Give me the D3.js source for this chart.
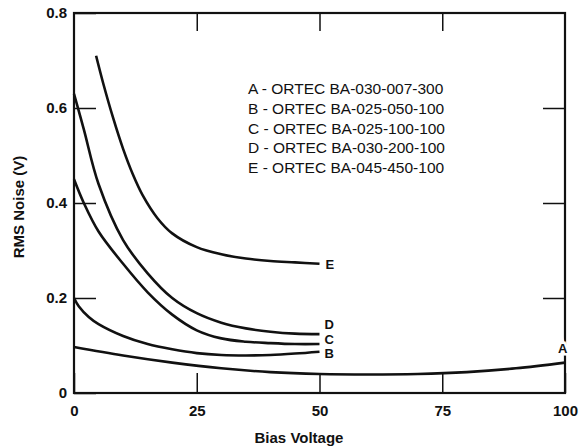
<!DOCTYPE html>
<html>
<head>
<meta charset="utf-8">
<script src="https://cdn.jsdelivr.net/npm/d3@7"></script>
<style>
  body { margin: 0; background: #fff; }
  text { font-family: "Liberation Sans", Arial, sans-serif; fill: #111; }
</style>
</head>
<body>
<div id="chart"></div>
<script>
// values
const biasA = [0, 10, 20, 30, 40, 50, 60, 70, 80, 90, 100];
const noiseA = [0.097, 0.079, 0.064, 0.052, 0.044, 0.040, 0.039, 0.040, 0.044, 0.052, 0.064];

const biasB = [0, 1, 3, 5, 10, 15, 20, 25, 30, 35, 40, 45, 50];
const noiseB = [0.200, 0.182, 0.160, 0.145, 0.120, 0.103, 0.092, 0.084, 0.080, 0.079, 0.080, 0.083, 0.087];

const biasC = [0, 2, 5, 10, 15, 20, 25, 30, 35, 40, 45, 50];
const noiseC = [0.450, 0.400, 0.340, 0.272, 0.212, 0.165, 0.132, 0.115, 0.108, 0.105, 0.103, 0.103];

const biasD = [0, 2, 5, 10, 15, 20, 25, 30, 35, 40, 45, 50];
const noiseD = [0.630, 0.555, 0.440, 0.322, 0.252, 0.200, 0.168, 0.148, 0.136, 0.129, 0.125, 0.124];

const biasE = [4.5, 6, 8, 10, 12, 14, 17, 20, 25, 30, 35, 40, 45, 50];
const noiseE = [0.710, 0.650, 0.578, 0.514, 0.460, 0.416, 0.368, 0.336, 0.307, 0.292, 0.283, 0.278, 0.275, 0.272];

const legendLabels = [
  'A - ORTEC BA-030-007-300',
  'B - ORTEC BA-025-050-100',
  'C - ORTEC BA-025-100-100',
  'D - ORTEC BA-030-200-100',
  'E - ORTEC BA-045-450-100'
];
const xTicks = [0, 25, 50, 75, 100];
const yTicks = [0, 0.2, 0.4, 0.6, 0.8];

const width = 580, height = 447;
const margins = {top: 13, right: 15, bottom: 54, left: 74};
const graphWidth = width - margins.left - margins.right;
const graphHeight = height - margins.top - margins.bottom;

const svg = d3.select('#chart')
  .append('svg')
  .attr('width', width)
  .attr('height', height);

const g = svg.append('g')
  .attr('transform', `translate(${margins.left}, ${margins.top})`);

const x = d3.scaleLinear().domain([0, 100]).range([0, graphWidth]);
const y = d3.scaleLinear().domain([0, 0.8]).range([graphHeight, 0]);

// axes with inward ticks
g.append('g')
  .attr('transform', `translate(0, ${graphHeight})`)
  .call(d3.axisBottom(x).tickValues(xTicks).tickSizeInner(-20).tickSizeOuter(0).tickPadding(12))
  .call(a => a.select('.domain').remove())
  .call(a => a.selectAll('line').attr('stroke', '#111').attr('stroke-width', 1.5))
  .call(a => a.selectAll('text').attr('font-size', 15).attr('font-weight', 'bold').attr('fill', '#111'));

g.append('g')
  .call(d3.axisLeft(y).tickValues(yTicks).tickSizeInner(-22).tickSizeOuter(0).tickPadding(7)
    .tickFormat(d => d === 0 ? '0' : d3.format('.1f')(d)))
  .call(a => a.select('.domain').remove())
  .call(a => a.selectAll('line').attr('stroke', '#111').attr('stroke-width', 1.5))
  .call(a => a.selectAll('text').attr('font-size', 15).attr('font-weight', 'bold').attr('fill', '#111'));

g.append('g')
  .call(d3.axisTop(x).tickValues([25, 50, 75]).tickSizeInner(-18).tickSizeOuter(0).tickFormat(''))
  .call(a => a.select('.domain').remove())
  .call(a => a.selectAll('line').attr('stroke', '#111').attr('stroke-width', 1.5));

g.append('g')
  .attr('transform', `translate(${graphWidth}, 0)`)
  .call(d3.axisRight(y).tickValues([0.2, 0.4, 0.6]).tickSizeInner(-22).tickSizeOuter(0).tickFormat(''))
  .call(a => a.select('.domain').remove())
  .call(a => a.selectAll('line').attr('stroke', '#111').attr('stroke-width', 1.5));

// frame
g.append('rect')
  .attr('width', graphWidth)
  .attr('height', graphHeight)
  .attr('fill', 'none')
  .attr('stroke', '#111')
  .attr('stroke-width', 2.2);

// curves
const series = [
  {name: 'A', bias: biasA, noise: noiseA},
  {name: 'B', bias: biasB, noise: noiseB},
  {name: 'C', bias: biasC, noise: noiseC},
  {name: 'D', bias: biasD, noise: noiseD},
  {name: 'E', bias: biasE, noise: noiseE}
].map(s => ({name: s.name, points: s.bias.map((b, i) => [b, s.noise[i]])}));

const line = d3.line()
  .x(d => x(d[0]))
  .y(d => y(d[1]))
  .curve(d3.curveCatmullRom.alpha(0.5));

g.selectAll('path.curve')
  .data(series)
  .enter()
  .append('path')
  .attr('class', 'curve')
  .attr('d', d => line(d.points))
  .attr('fill', 'none')
  .attr('stroke', '#111')
  .attr('stroke-width', 2.6);

// curve end labels
const labelOffset = {A: [-7, -14], B: [5, 2], C: [5, -5], D: [5, -10], E: [6, 1]};
g.selectAll('text.curve-label')
  .data(series)
  .enter()
  .append('text')
  .attr('class', 'curve-label')
  .attr('x', d => x(d.points[d.points.length - 1][0]) + labelOffset[d.name][0])
  .attr('y', d => y(d.points[d.points.length - 1][1]) + labelOffset[d.name][1])
  .attr('dy', '0.35em')
  .attr('font-size', 13)
  .attr('font-weight', 'bold')
  .attr('stroke', d => d.name === 'A' ? '#fff' : 'none')
  .attr('stroke-width', 5)
  .attr('paint-order', 'stroke')
  .text(d => d.name);

// legend
g.selectAll('text.legend')
  .data(legendLabels)
  .enter()
  .append('text')
  .attr('class', 'legend')
  .attr('x', 248 - margins.left)
  .attr('y', (d, i) => 89 - margins.top + i * 19.6)
  .attr('dy', '0.35em')
  .attr('font-size', 15.5)
  .text(d => d);

// axis titles
svg.append('text')
  .attr('x', 299)
  .attr('y', 438)
  .attr('dy', '0.35em')
  .attr('text-anchor', 'middle')
  .attr('font-size', 15)
  .attr('font-weight', 'bold')
  .text('Bias Voltage');

svg.append('text')
  .attr('transform', `translate(19, 207) rotate(-90)`)
  .attr('dy', '0.35em')
  .attr('text-anchor', 'middle')
  .attr('font-size', 15)
  .attr('font-weight', 'bold')
  .text('RMS Noise (V)');
</script>
</body>
</html>
